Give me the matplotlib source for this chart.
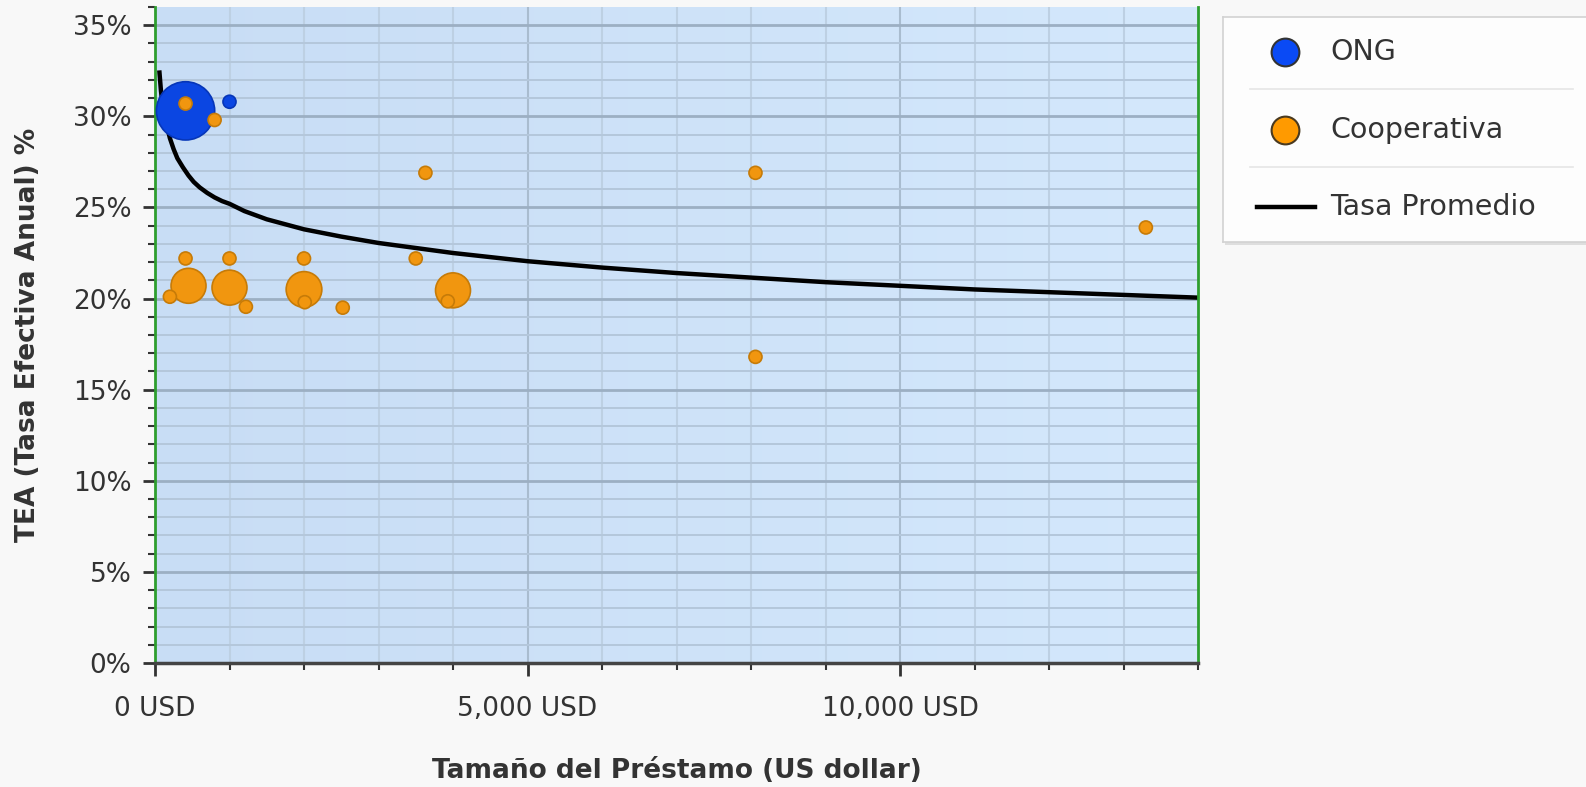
#!/usr/bin/env python3
"""TEA vs loan size bubble chart (ONG / Cooperativa) with average rate curve."""

import numpy as np
import matplotlib
matplotlib.use("Agg")
import matplotlib.pyplot as plt
from matplotlib.ticker import MultipleLocator, FuncFormatter
from matplotlib.colors import LinearSegmentedColormap

W, H, DPI = 1586, 787, 100
BG = "#f8f8f8"

# ONG bubbles: loan size (USD), TEA (%), relative weight
ong_x = [410, 1000]
ong_y = [30.3, 30.8]
ong_w = [20, 1]

# Cooperativa bubbles
coop_x = [410, 800, 3630, 410, 1000, 2000, 3500,
          450, 1000, 2000, 4000,
          200, 1220, 2010, 2520, 3930,
          8060, 13300, 8060]
coop_y = [30.7, 29.8, 26.9, 22.2, 22.2, 22.2, 22.2,
          20.7, 20.6, 20.5, 20.45,
          20.1, 19.55, 19.8, 19.5, 19.85,
          26.9, 23.9, 16.8]
coop_w = [1, 1, 1, 1, 1, 1, 1,
          7.2, 7.2, 7.5, 7.2,
          1, 1, 1, 1, 1,
          1, 1, 1]

# Tasa Promedio curve
avg_x = [60, 80, 100, 130, 170, 200, 250, 300, 375, 450, 520, 600, 700, 800,
         900, 1000, 1200, 1500, 2000, 2500, 3000, 4000, 5000, 6000, 7000,
         8000, 9000, 10000, 11000, 12000, 13000, 14000]
avg_y = [32.4, 31.4, 30.7, 30.0, 29.3, 28.8, 28.2, 27.7, 27.2, 26.75, 26.4,
         26.1, 25.8, 25.55, 25.35, 25.2, 24.8, 24.35, 23.8, 23.4, 23.05, 22.5,
         22.05, 21.7, 21.4, 21.15, 20.9, 20.7, 20.5, 20.35, 20.2, 20.05]

SIZE_K = 88  # points^2 per weight unit

fig = plt.figure(figsize=(W / DPI, H / DPI), dpi=DPI)
fig.patch.set_facecolor(BG)

L, R, T, B = 155, 1198, 7, 663
ax = fig.add_axes([L / W, 1 - B / H, (R - L) / W, (B - T) / H])

# plot area gradient
grad = LinearSegmentedColormap.from_list("bg", ["#c8ddf5", "#d4e8fc"])
ax.imshow(np.linspace(0, 1, 256).reshape(1, -1), cmap=grad, aspect="auto",
          extent=(0, 14000, 0, 36), zorder=0)

ax.set_xlim(0, 14000)
ax.set_ylim(0, 36)

# grid
for v in np.arange(1000, 14000, 1000):
    c = "#a9bccf" if v % 5000 == 0 else "#bdd0e3"
    ax.axvline(v, color=c, lw=1.5, zorder=1)
for v in np.arange(1, 36, 1):
    if v % 5 == 0:
        ax.axhline(v, color="#9cafc3", lw=2.0, zorder=1)
    else:
        ax.axhline(v, color="#b4c7db", lw=1.4, zorder=1)

# average curve
ax.plot(avg_x, avg_y, color="black", lw=3.2, zorder=2, solid_joinstyle="round")

# bubbles
ax.scatter(ong_x, ong_y, s=[w * SIZE_K for w in ong_w], color="#0b46e2",
           edgecolors="#0636b8", linewidths=1.2, zorder=3)
order = np.argsort(coop_w)[::-1]
ax.scatter(np.array(coop_x)[order], np.array(coop_y)[order],
           s=[coop_w[i] * SIZE_K for i in order], color="#f1960f",
           edgecolors="#c67b08", linewidths=1.2, zorder=4)

# spines
ax.spines["top"].set_visible(False)
for side in ("left", "right"):
    ax.spines[side].set_color("#2e9e2e")
    ax.spines[side].set_linewidth(2)
ax.spines["bottom"].set_color("#444444")
ax.spines["bottom"].set_linewidth(2.5)

# ticks
ax.xaxis.set_major_locator(MultipleLocator(5000))
ax.xaxis.set_minor_locator(MultipleLocator(1000))
ax.yaxis.set_major_locator(MultipleLocator(5))
ax.yaxis.set_minor_locator(MultipleLocator(1))
ax.xaxis.set_major_formatter(FuncFormatter(lambda v, p: f"{int(v):,} USD"))
ax.yaxis.set_major_formatter(FuncFormatter(lambda v, p: f"{int(v)}%"))
ax.tick_params(axis="both", which="major", length=9, width=2, color="#333333",
               labelsize=19, labelcolor="#333333")
ax.tick_params(axis="both", which="minor", length=5, width=1.5, color="#333333")
ax.tick_params(axis="x", which="major", pad=15)
ax.tick_params(axis="y", which="major", pad=8)

ax.set_xlabel("Tamaño del Préstamo (US dollar)", fontsize=19, fontweight="bold",
              color="#333333", va="center")
ax.xaxis.set_label_coords(0.5, -(771 - B) / (B - T))
ax.set_ylabel("TEA (Tasa Efectiva Anual) %", fontsize=19, fontweight="bold",
              color="#333333", va="center")
ax.yaxis.set_label_coords(-(L - 28) / (R - L), 0.5)

# legend box (pixel coordinates)
lx0, ly0, lx1, ly1 = 1223, 17, 1600, 242
shadow = fig.add_axes([(lx0 + 2) / W, 1 - (ly1 + 3) / H, (lx1 - lx0) / W, (ly1 - ly0) / H])
shadow.set_facecolor("#dedede")
shadow.set_xticks([]); shadow.set_yticks([])
for s in shadow.spines.values():
    s.set_visible(False)
lax = fig.add_axes([lx0 / W, 1 - ly1 / H, (lx1 - lx0) / W, (ly1 - ly0) / H])
lax.set_xlim(lx0, lx1)
lax.set_ylim(ly1, ly0)
lax.set_facecolor("#fdfdfd")
lax.set_xticks([]); lax.set_yticks([])
for s in lax.spines.values():
    s.set_color("#d2d2d2")
    s.set_linewidth(1.2)

for ys in (89, 167):
    lax.plot([1250, 1573], [ys, ys], color="#e6e6e6", lw=1.2)
lax.plot([1285], [52], "o", ms=20, mfc="#0a4af5", mec="#333333", mew=1.5)
lax.plot([1285], [130], "o", ms=20, mfc="#ff9a00", mec="#4a3a20", mew=1.5)
lax.plot([1257, 1315], [207, 207], color="black", lw=3.2)
for yy, txt in ((52, "ONG"), (130, "Cooperativa"), (207, "Tasa Promedio")):
    lax.text(1330, yy, txt, fontsize=20.5, color="#333333", va="center", ha="left")

fig.savefig("out.png", dpi=DPI, facecolor=BG)
